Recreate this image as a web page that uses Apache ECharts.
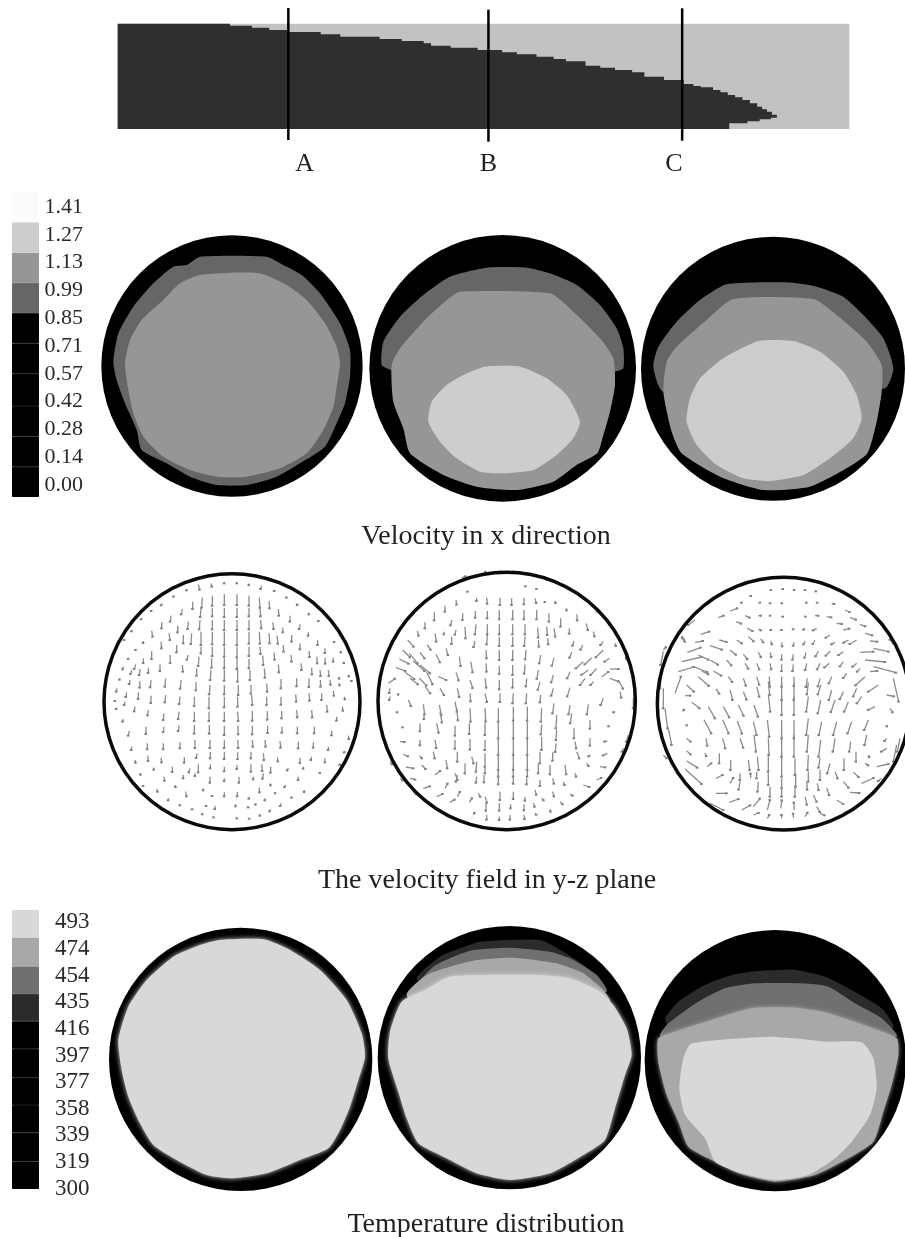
<!DOCTYPE html>
<html>
<head>
<meta charset="utf-8">
<style>
  html, body { margin: 0; background: #fff; }
  #chart { width: 905px; height: 1237px; }
</style>
<script src="https://cdn.jsdelivr.net/npm/echarts@6/dist/echarts.min.js"></script>
</head>
<body>
<div id="chart"></div>
<script>
// colour scale levels
const velocityLevels = [0, 0.14, 0.28, 0.42, 0.57, 0.71, 0.85, 0.99, 1.13, 1.27, 1.41];
const temperatureLevels = [300, 319, 339, 358, 377, 397, 416, 435, 454, 474, 493];

const sectionNames = ["A", "B", "C"];
const sectionX = [384, 792, 1187];
const sectionTop = [24, 29, 25];
const sectionBottom = [420, 425, 422];
const sectionLabelX = [417, 792, 1170];

// melt front, stair-stepped
const channel = [[36, 71], [1528, 71], [1528, 387], [36, 387]];
const front = [[36, 71], [265, 71], [265, 77], [310, 83], [345, 90], [385, 96], [450, 103], [490, 110], [570, 117], [615, 123], [660, 130], [675, 137], [715, 143], [770, 150], [820, 157], [850, 163], [890, 170], [925, 177], [950, 184], [990, 197], [1020, 203], [1050, 210], [1085, 217], [1110, 230], [1150, 240], [1190, 252], [1210, 258], [1225, 262], [1250, 270], [1265, 277], [1280, 285], [1295, 292], [1310, 300], [1325, 310], [1340, 320], [1350, 328], [1360, 335], [1370, 344], [1380, 353], [1368, 358], [1345, 364], [1320, 370], [1283, 380], [1283, 387], [36, 387]];

// velocity contours
const velDiskA = [696, 528, 392];
const velA1 = [[600, 200], [800, 200], [850, 225], [905, 255], [960, 310], [1020, 400], [1050, 480], [1050, 560], [1035, 640], [1010, 700], [975, 770], [900, 820], [830, 860], [740, 885], [650, 885], [570, 860], [500, 820], [425, 780], [410, 720], [375, 640], [350, 570], [340, 515], [355, 430], [400, 350], [460, 280], [520, 230], [560, 225]];
const velA2 = [[600, 255], [700, 248], [780, 250], [860, 285], [920, 330], [975, 400], [1010, 470], [1020, 520], [1010, 590], [1000, 650], [970, 720], [920, 790], [840, 835], [740, 860], [650, 860], [570, 840], [490, 800], [430, 740], [400, 670], [385, 600], [375, 520], [390, 450], [425, 390], [490, 330], [540, 280]];

const velDiskB = [428, 430, 400];
const velB1 = [[380, 128], [500, 128], [570, 145], [650, 180], [720, 240], [770, 310], [790, 370], [790, 430], [765, 440], [600, 500], [200, 500], [92, 435], [65, 420], [70, 350], [120, 275], [190, 210], [270, 155]];
const velB2 = [[300, 200], [570, 205], [640, 260], [720, 340], [760, 400], [765, 480], [750, 560], [730, 630], [712, 685], [650, 720], [580, 770], [470, 795], [350, 785], [250, 750], [150, 685], [130, 610], [100, 530], [95, 420], [120, 370], [190, 290], [260, 225]];
const velB3 = [[375, 425], [480, 425], [560, 460], [620, 510], [660, 590], [640, 640], [590, 690], [520, 735], [430, 745], [360, 740], [290, 700], [240, 650], [205, 590], [215, 530], [260, 480], [320, 445]];

const velDiskC = [429, 431, 396];
const velC1 = [[290, 178], [470, 172], [560, 185], [640, 215], [700, 270], [760, 340], [790, 430], [765, 490], [500, 500], [100, 500], [70, 425], [85, 365], [140, 290], [210, 225]];
const velC2 = [[310, 222], [550, 222], [620, 270], [710, 350], [755, 420], [755, 500], [740, 590], [712, 685], [650, 730], [540, 785], [400, 795], [270, 755], [155, 685], [125, 620], [100, 500], [110, 410], [140, 365], [230, 285]];
const velC3 = [[385, 348], [490, 348], [570, 380], [640, 440], [680, 510], [695, 580], [670, 640], [600, 700], [520, 750], [420, 768], [340, 760], [260, 720], [200, 660], [170, 590], [180, 520], [210, 460], [280, 400]];

// temperature contours
const tempDiskA = [722, 478, 395];
const tempA1 = [[660, 120], [790, 118], [870, 150], [960, 210], [1040, 300], [1085, 400], [1095, 470], [1075, 540], [1050, 620], [1020, 690], [985, 745], [900, 780], [800, 820], [700, 835], [620, 825], [530, 780], [460, 735], [420, 670], [385, 590], [365, 510], [355, 420], [385, 320], [440, 240], [520, 170], [600, 135]];

const tempDiskB = [418, 488, 395];
const tempB1 = [[330, 140], [510, 135], [580, 170], [640, 210], [700, 275], [500, 300], [200, 300], [140, 250], [210, 185], [270, 160]];
const tempB2 = [[310, 165], [420, 158], [540, 170], [600, 190], [680, 240], [710, 290], [500, 300], [200, 290], [130, 285], [190, 215], [250, 185]];
const tempB3 = [[320, 195], [430, 188], [560, 205], [640, 235], [700, 285], [720, 320], [600, 400], [200, 400], [110, 300], [170, 240], [240, 215]];
const tempB4 = [[240, 245], [500, 240], [600, 250], [690, 290], [730, 330], [770, 400], [785, 480], [765, 540], [735, 640], [705, 735], [640, 780], [540, 835], [420, 855], [320, 835], [230, 790], [145, 745], [110, 670], [85, 590], [55, 490], [60, 410], [95, 320], [165, 285]];

const tempDiskC = [421, 497, 392];
const tempC1 = [[370, 228], [480, 225], [570, 245], [650, 285], [740, 340], [775, 400], [500, 440], [100, 390], [90, 370], [130, 320], [210, 270], [290, 240]];
const tempC2 = [[360, 265], [500, 265], [580, 275], [660, 325], [740, 370], [785, 425], [500, 480], [100, 460], [75, 420], [100, 385], [190, 320], [270, 280]];
const tempC3 = [[350, 340], [480, 338], [570, 352], [700, 395], [785, 430], [790, 480], [770, 570], [745, 650], [715, 740], [640, 790], [540, 840], [420, 860], [310, 835], [220, 790], [160, 755], [130, 680], [95, 600], [70, 500], [70, 430], [120, 410], [230, 375]];
const tempC4 = [[170, 445], [400, 425], [480, 430], [570, 440], [680, 442], [715, 490], [725, 580], [705, 660], [650, 740], [600, 790], [520, 840], [420, 855], [320, 835], [240, 800], [210, 730], [150, 660], [133, 580], [145, 490]];

// y-z velocity field: x, y, dx, dy
const wallA = [411, 410, 384];
const fieldA = [
  [310,58,4,16],[348,55,3,10],[388,52,0,3],[426,52,0,3],[463,55,-1,5],[500,62,-3,10],[540,75,-2,3],[275,72,0,4],[238,92,-2,3],[573,95,2,3],[605,115,2,5],[202,115,-3,6],[170,135,-1,3],[640,143,2,5],[140,160,-1,3],[670,165,1,3],
  [293,110,0,22],[322,98,-2,30],[352,92,0,30],[388,88,0,32],[426,88,0,32],[462,92,0,30],[493,98,2,30],[522,108,2,22],
  [262,132,-3,16],[318,128,-2,28],[352,128,0,26],[388,128,0,28],[426,128,0,28],[462,128,0,26],[495,128,2,26],[550,132,2,20],[585,152,0,18],[228,152,-2,18],
  [200,172,0,18],[248,182,0,20],[280,170,-2,22],[315,165,-2,28],[352,165,0,28],[388,165,0,30],[426,165,0,30],[462,165,0,28],[497,165,2,25],[533,172,3,20],[563,188,1,14],[615,178,-2,14],
  [170,197,3,18],[222,205,3,20],[265,210,0,25],[290,205,-2,32],[318,200,0,40],[352,200,0,38],[388,200,0,40],[426,200,0,40],[462,200,0,36],[493,200,2,36],[522,205,2,30],[546,212,3,24],[590,210,0,20],[640,202,0,10],[145,228,0,6],[112,195,-2,4],[668,225,0,15],[690,250,0,14],[88,222,0,3],[718,228,0,3],
  [198,230,2,20],[245,240,0,22],[170,258,0,24],[280,270,-4,14],[318,245,0,20],[352,245,0,28],[388,245,0,30],[426,245,0,32],[462,245,0,28],[495,245,2,22],[537,262,2,22],[565,240,1,20],[615,235,0,18],[642,258,2,18],[665,275,2,20],[690,278,1,18],[122,252,0,3],[100,278,0,4],[738,258,0,4],
  [145,280,0,14],[225,270,1,24],[312,275,-2,28],[350,280,0,28],[388,280,0,30],[426,280,0,32],[462,282,0,28],[503,272,2,28],[588,270,2,20],[715,278,0,12],[745,290,2,4],
  [85,305,-2,8],[122,298,-4,14],[110,315,-3,12],[135,312,-2,18],[160,308,0,16],[195,298,0,20],[262,300,2,20],[305,310,0,22],[348,315,-2,30],[388,315,0,32],[428,315,0,35],[465,315,0,30],[508,310,2,28],[550,298,2,24],[618,295,2,20],[650,308,1,20],[675,315,2,18],[700,315,2,18],[730,335,3,6],[760,330,2,4],
  [75,340,-1,4],[105,345,-2,12],[135,348,-1,20],[168,345,-2,22],[212,340,-2,25],[258,345,-2,26],[303,350,0,26],[345,360,-2,28],[388,360,0,28],[430,360,0,30],[468,360,0,26],[515,355,2,25],[558,342,0,28],[605,340,0,24],[642,340,0,26],[676,345,1,20],[705,345,2,14],[732,355,2,6],[768,345,2,3],
  [66,370,-2,10],[95,382,-2,14],[130,382,0,20],[168,392,0,22],[212,390,-2,22],[255,395,-2,22],[298,395,0,28],[342,395,0,35],[388,395,0,32],[428,395,0,30],[470,390,2,30],[515,395,0,25],[558,395,0,24],[602,388,2,22],[642,385,2,22],[680,385,0,20],[715,378,2,14],[748,395,2,8],
  [60,405,0,3],[90,410,-2,10],[65,428,-1,4],[120,425,-2,14],[160,435,-2,16],[207,445,-2,20],[252,440,-2,22],[298,440,0,28],[342,440,0,28],[388,440,0,28],[428,440,2,28],[472,437,0,30],[517,438,0,26],[560,438,0,22],[605,435,2,22],[650,435,2,22],[695,420,2,20],[742,425,2,12],
  [85,462,-2,8],[103,498,-3,14],[153,485,0,22],[207,485,-2,16],[252,482,-2,16],[298,480,0,26],[343,480,0,26],[388,482,0,28],[428,482,2,26],[472,482,0,26],[518,482,0,22],[561,485,0,18],[607,485,0,20],[658,485,0,20],[710,497,0,14],[725,455,0,12],[760,512,2,10],
  [110,545,-1,10],[157,535,0,18],[205,535,0,18],[255,532,0,18],[300,525,0,24],[345,525,0,24],[388,525,0,24],[428,525,2,24],[472,525,2,20],[510,525,2,20],[555,528,2,20],[610,530,0,20],[655,532,0,16],[700,545,0,10],[750,558,-2,4],[775,530,1,6],
  [120,585,2,8],[158,572,2,16],[198,578,2,14],[268,577,0,16],[306,565,-2,14],[346,560,0,20],[388,560,0,22],[428,562,0,20],[468,560,0,20],[505,565,2,20],[547,577,2,12],[615,578,0,16],[650,575,-2,10],[690,580,0,12],[735,595,0,5],
  [137,625,0,4],[175,608,2,6],[232,605,0,16],[285,610,-3,12],[310,598,0,24],[346,598,0,12],[388,605,0,14],[426,600,0,12],[468,598,0,22],[500,598,2,20],[527,605,0,18],[580,608,-3,8],[625,605,0,6],[675,620,0,4],
  [145,660,0,3],[207,635,2,12],[265,630,0,10],[300,625,0,8],[345,635,0,18],[388,640,0,8],[432,635,0,18],[475,635,0,8],[505,625,-2,16],[525,655,2,6],[572,660,-3,6],[610,635,0,10],
  [185,672,3,8],[240,660,2,6],[272,680,3,14],[325,670,0,6],[352,690,0,3],[388,682,0,12],[427,680,0,14],[462,695,0,6],[492,668,2,14],[510,700,0,6],[541,682,0,3],[592,695,-2,3],[628,675,0,6],
  [220,700,0,6],[255,718,0,3],[330,720,4,3],[360,722,0,10],[422,718,0,6],[458,725,2,2],[482,715,0,4],[527,733,-3,6],[558,715,-2,8],
  [290,732,2,1],[322,745,0,3],[356,755,0,2],[423,760,3,0],[462,760,1,1],[495,748,0,4]
];

const wallB = [410, 408, 386];
const fieldB = [
  [292,78,1,2],[467,62,0,2],[500,70,0,2],[258,105,2,14],[320,98,0,10],[350,98,2,18],[390,98,0,22],[425,100,0,20],[462,98,0,20],[495,100,4,14],[525,108,0,3],[555,108,2,6],[590,130,0,6],[225,122,0,18],
  [193,142,0,24],[278,145,0,20],[316,138,0,20],[352,138,0,22],[388,135,0,28],[428,135,0,28],[462,135,0,28],[500,135,0,28],[537,145,0,25],[572,160,0,25],[620,148,2,18],[680,135,2,5],
  [165,172,0,18],[245,165,-3,16],[142,198,4,14],[195,205,4,25],[222,200,0,8],[258,195,-3,14],[285,185,2,35],[318,178,-3,30],[352,178,0,30],[388,178,0,30],[428,178,0,30],[465,178,0,30],[503,188,2,30],[530,185,2,25],[552,190,4,25],[598,190,0,16],[648,175,6,20],[670,200,4,14],
  [113,225,18,20],[172,240,10,14],[245,215,0,22],[315,228,-4,18],[352,210,-2,28],[388,215,0,28],[428,215,0,28],[465,215,-2,28],[505,225,2,20],[533,220,2,18],[612,228,-4,14],[638,240,-6,14],[700,230,-8,10],[735,235,3,8],
  [98,255,22,22],[88,282,28,14],[118,265,25,30],[150,262,14,18],[198,268,12,24],[228,250,6,20],[268,275,4,28],[348,255,2,25],[388,255,0,30],[428,255,0,30],[468,255,-2,28],[512,270,-4,25],[552,278,-6,24],[605,262,-6,16],[665,278,-20,20],[700,255,-22,22],[718,280,-14,10],[770,268,0,15],
  [78,308,28,10],[105,322,28,20],[130,288,34,30],[150,300,30,25],[170,322,18,36],[205,335,24,10],[258,322,8,24],[302,290,6,32],[348,295,2,25],[388,302,0,25],[428,300,0,30],[465,298,-2,28],[505,315,-4,26],[550,330,-6,22],[600,320,-8,20],[640,290,-22,20],[655,315,-20,14],[680,310,-18,20],[720,312,26,0],[695,335,20,-14],
  [55,355,20,-14],[60,370,-2,14],[85,385,0,4],[120,340,24,18],[148,340,22,22],[165,365,16,20],[210,370,12,20],[262,370,6,26],[300,345,8,24],[345,340,4,28],[388,345,0,28],[428,340,0,28],[470,340,-2,24],[510,350,-6,24],[550,370,-6,22],[600,368,-8,26],[645,340,-14,20],[670,350,-8,10],[720,340,26,10],[745,345,14,26],
  [60,395,-2,10],[115,405,8,18],[160,418,4,30],[208,420,6,30],[255,410,6,30],[300,385,2,24],[345,385,6,26],[390,385,0,26],[430,385,-2,30],[470,385,-2,30],[512,390,-2,22],[552,415,-4,30],[600,420,-4,28],[655,418,-4,30],[700,400,-8,20],[750,380,4,18],
  [80,440,2,2],[162,450,0,12],[210,440,6,32],[260,430,4,36],[300,430,2,40],[345,428,2,42],[385,430,0,40],[430,425,0,42],[472,425,0,42],[515,430,-2,40],[560,450,-2,40],[605,445,-4,30],[735,440,-4,2],
  [98,486,0,1],[150,475,0,24],[200,475,6,28],[255,482,0,30],[298,475,0,32],[345,475,0,35],[385,470,0,50],[430,470,0,50],[472,470,0,50],[515,478,-2,30],[560,495,-2,30],[612,490,0,30],[660,465,0,26],[718,482,-2,2],
  [90,530,14,1],[150,525,0,16],[195,525,4,24],[255,525,0,26],[300,522,0,32],[345,525,0,30],[385,520,0,50],[430,520,0,50],[472,520,0,50],[515,515,0,40],[558,535,-2,26],[615,530,4,20],[660,520,0,22],[712,528,-8,2],
  [100,568,14,6],[148,572,8,8],[190,560,4,20],[228,585,4,25],[262,560,0,30],[305,575,6,20],[345,565,0,40],[385,565,0,50],[430,565,0,50],[472,565,0,50],[510,560,0,35],[548,562,0,25],[620,560,8,20],[662,570,-6,4],[712,565,-12,6],
  [108,606,22,4],[155,600,12,12],[195,630,16,-12],[255,625,8,20],[285,595,0,30],[320,590,-2,30],[345,605,0,20],[385,605,0,30],[430,605,0,30],[472,605,0,30],[505,595,0,30],[540,600,0,28],[585,600,4,28],[615,625,4,10],[650,595,6,8],[690,605,16,2],
  [120,640,16,4],[160,670,20,-6],[225,670,8,-14],[262,630,-4,20],[320,635,-2,18],[342,630,0,22],[385,630,0,28],[430,632,0,24],[470,640,0,18],[510,645,0,18],[548,640,4,16],[580,650,4,10],[640,660,18,6],[680,645,14,-6],
  [200,695,18,-8],[240,712,14,-8],[262,695,8,-14],[298,712,8,-12],[325,685,6,10],[345,695,6,18],[390,680,0,25],[430,680,0,22],[465,695,0,12],[495,675,4,14],[515,700,6,6],[548,680,4,14],[570,710,8,8],[600,688,8,4],
  [310,750,4,-6],[348,715,0,22],[350,750,0,14],[388,715,0,22],[422,718,0,12],[420,750,0,14],[462,718,0,18],[462,750,2,12],[490,715,4,10],[495,745,4,4],[540,732,2,8],[388,755,0,10],
  [275,38,12,-4],[345,16,2,6],[390,16,0,5],[430,16,0,5],[765,265,4,14],[790,400,0,30],[775,510,-6,20],[760,550,-4,10],[60,590,6,8],[90,640,8,6],[130,680,10,8]
];

const wallC = [461, 416, 379];
const fieldC = [
  [365,92,-2,1],[422,75,1,0],[458,72,1,0],[492,75,1,0],[525,75,1,0],[557,78,1,1],
  [300,138,22,-8],[333,115,2,-2],[392,113,-2,0],[420,115,1,0],[455,115,1,0],[528,113,2,0],[560,113,2,0],[605,115,8,2],[645,135,14,6],
  [265,158,16,-6],[345,152,14,6],[385,152,8,0],[420,152,1,0],[455,155,4,0],[525,155,2,0],[555,152,10,0],[590,155,14,2],[620,175,16,2],[660,158,18,6],[690,178,16,6],
  [212,208,26,-8],[318,170,16,6],[352,190,16,8],[385,192,8,4],[420,192,3,3],[455,192,0,3],[490,190,0,3],[525,190,-4,4],[560,190,-10,6],[600,210,-12,8],[640,195,18,-4],[705,205,22,6],
  [195,232,24,-4],[268,225,22,6],[320,225,16,10],[355,215,16,14],[392,222,8,10],[422,228,4,10],[455,232,2,12],[492,232,-2,10],[525,228,-4,10],[555,225,-6,12],[615,232,-10,6],[655,225,-14,8],[680,225,-20,12],[720,228,22,2],
  [172,262,40,-14],[240,242,36,12],[300,255,18,14],[340,268,12,14],[385,262,8,14],[420,262,4,14],[455,268,0,16],[490,268,-2,16],[528,262,-4,16],[565,258,-8,16],[600,258,-12,14],[640,260,-14,10],[690,262,40,-2],[730,250,46,10],
  [155,290,60,-14],[205,270,30,14],[240,285,24,14],[290,285,14,16],[345,295,10,16],[380,295,8,18],[420,295,4,18],[455,298,0,20],[490,298,-2,20],[530,295,-4,20],[570,295,-8,18],[598,295,-14,12],[640,290,-10,14],[680,295,-12,10],[705,285,60,6],
  [145,320,46,-14],[190,305,42,16],[215,318,20,10],[250,318,24,14],[295,335,12,16],[340,340,8,22],[380,335,8,24],[418,335,2,30],[455,335,0,30],[492,335,0,28],[532,340,-4,26],[570,340,-6,24],[605,335,-8,20],[650,325,-10,14],[690,310,-8,10],[720,320,22,-2],[730,305,68,18],
  [135,385,18,-50],[170,360,22,20],[205,335,32,28],[258,372,10,14],[300,375,8,30],[340,380,10,24],[380,365,8,30],[415,350,4,40],[455,355,0,50],[492,355,0,50],[535,352,-4,36],[572,360,-8,28],[605,375,-8,30],[640,380,-10,22],[680,370,-10,24],[705,335,-28,26],[745,360,-30,20],[790,340,16,70],
  [165,392,16,0],[185,412,24,18],[235,425,20,35],[280,425,18,32],[325,420,16,32],[372,420,12,35],[415,390,6,50],[455,395,0,55],[492,395,0,55],[535,395,-6,45],[572,405,-8,40],[615,405,-12,36],[655,410,-12,30],[695,395,-14,20],[735,425,-20,10],[770,390,22,4],[780,430,8,12],
  [158,440,4,-6],[222,465,22,40],[278,465,18,40],[322,468,14,38],[370,470,10,40],[412,465,6,50],[455,465,0,55],[492,465,0,55],[535,460,-6,50],[575,470,-8,40],[620,470,-10,40],[665,470,-12,35],[715,465,-12,30],[770,480,1,4],
  [170,480,1,1],[170,520,12,10],[228,520,4,22],[278,520,8,30],[330,520,10,28],[372,510,6,50],[415,520,2,50],[455,510,0,65],[492,510,0,65],[535,510,-4,50],[572,525,-6,50],[615,520,-6,40],[662,530,-4,30],[710,510,-6,30],[770,520,-6,8],
  [170,558,12,10],[225,565,4,8],[268,565,0,30],[302,585,0,30],[355,585,4,30],[382,575,4,40],[415,570,0,50],[455,575,0,60],[495,580,0,50],[535,570,-2,45],[570,578,-4,30],[600,595,-8,30],[642,580,0,35],[678,560,0,30],[716,570,2,6],[770,550,-16,10],
  [170,588,32,20],[232,605,12,-10],[165,612,50,45],[258,640,20,-10],[300,655,10,-16],[330,625,0,20],[362,640,0,-14],[380,620,0,20],[415,625,0,35],[455,640,0,30],[497,625,0,40],[535,620,0,30],[570,615,0,30],[615,620,8,20],[670,622,16,14],[705,595,10,6],[740,605,36,-8],
  [258,685,32,0],[298,712,28,-10],[335,735,26,-14],[330,650,-4,24],[385,650,-2,30],[420,665,0,30],[455,670,0,25],[495,665,0,30],[530,650,2,24],[562,655,4,20],[590,670,8,20],[640,650,16,18],[660,682,28,2],[695,655,36,-16],[755,640,-10,8],
  [370,725,20,-24],[412,735,8,-30],[452,730,4,-24],[492,735,0,-22],[525,695,6,24],[550,690,10,20],[560,725,10,16],[620,705,20,12],[370,750,16,-6],[412,760,6,-10],[455,760,0,-10],[490,758,0,-12],[525,755,8,-12],[570,745,14,6],[585,775,12,-4],
  [100,260,-8,40],[95,310,-4,60],[100,370,0,60],[105,430,8,60],[115,490,10,50],[155,220,10,10],[165,225,-8,-8],[780,225,10,10],[788,232,-8,-8],[800,540,-10,50],[810,520,-8,40],[240,715,40,20],[640,745,30,-15],[100,570,10,10],[195,165,-20,15],[100,255,8,-8]
];

const SERIF = '"Liberation Serif", serif';
const BLACK = "#000", DARK = "#666666", MID = "#969696", LIGHT = "#cdcdcd";
const T1 = "#2b2b2b", T2 = "#707070", T3 = "#a8a8a8", T4 = "#d8d8d8";

const grids = [], xAxes = [], yAxes = [], series = [];

// each panel is its own hidden pair of axes, in the units the contours were read in
function addPanel(left, top, width, height, xMax, yMax) {
  grids.push({ left, top, width, height });
  xAxes.push({ type: "value", gridIndex: grids.length - 1, min: 0, max: xMax, show: false });
  yAxes.push({ type: "value", gridIndex: grids.length - 1, min: 0, max: yMax, inverse: true, show: false });
  return grids.length - 1;
}

function addPolygon(panel, points, fill, opts) {
  opts = opts || {};
  series.push({
    type: "custom", xAxisIndex: panel, yAxisIndex: panel, silent: true, clip: false,
    data: [[points[0][0], points[0][1]]],
    renderItem: (params, api) => {
      let pts = points;
      if (opts.step) {
        pts = [];
        points.forEach((p, i) => {
          if (i > 0) pts.push([p[0], points[i - 1][1]]);
          pts.push(p);
        });
      }
      return {
        type: "polygon",
        shape: { points: pts.map((p) => api.coord(p)), smooth: opts.smooth || 0 },
        style: { fill, shadowBlur: opts.blur || 0, shadowColor: opts.blur ? fill : "transparent" },
      };
    },
  });
}

function addContour(panel, points, fill, blur) {
  addPolygon(panel, points, fill, { smooth: 0.2, blur: blur });
}

function addDisk(panel, disk, style) {
  series.push({
    type: "custom", xAxisIndex: panel, yAxisIndex: panel, silent: true, clip: false,
    data: [disk],
    renderItem: (params, api) => {
      const c = api.coord([api.value(0), api.value(1)]);
      const r = api.size([api.value(2), 0])[0];
      return { type: "circle", shape: { cx: c[0], cy: c[1], r }, style };
    },
  });
}

function addField(panel, field, wall) {
  series.push({
    type: "custom", xAxisIndex: panel, yAxisIndex: panel, silent: true, clip: false,
    data: field,
    renderItem: (params, api) => {
      const x = api.value(0), y = api.value(1), dx = api.value(2), dy = api.value(3);
      const a = api.coord([x, y]);
      const b = api.coord([x + dx, y + dy]);
      return {
        type: "group",
        children: [
          { type: "line", shape: { x1: a[0], y1: a[1], x2: b[0], y2: b[1] }, style: { stroke: "#8c8c8c", lineWidth: 1.3 } },
          { type: "rect", shape: { x: b[0] - 1.5, y: b[1] - 1, width: 2.5, height: 2 }, style: { fill: "#808080" } },
        ],
      };
    },
  });
  addDisk(panel, wall, { fill: "none", stroke: "#0a0a0a", lineWidth: 3.5 });
}

function addLegend(barTop, barHeight, labelLeft, labelTop, labelHeight, levels, colors, digits, fontSize) {
  const barGrid = grids.length;
  grids.push({ left: 12, top: barTop, width: 27, height: barHeight });
  xAxes.push({ type: "category", gridIndex: barGrid, data: [""], show: false });
  yAxes.push({ type: "value", gridIndex: barGrid, min: levels[0], max: levels[levels.length - 1], show: false });
  // stack starts at zero, so lift it to the first level with an unfilled bar
  series.push({
    type: "bar", xAxisIndex: barGrid, yAxisIndex: barGrid, stack: "band" + barGrid, barWidth: "100%", silent: true,
    data: [levels[0]], itemStyle: { color: "transparent" },
  });
  levels.slice(1).forEach((lv, i) => {
    series.push({
      type: "bar", xAxisIndex: barGrid, yAxisIndex: barGrid, stack: "band" + barGrid, barWidth: "100%", silent: true,
      data: [lv - levels[i]], itemStyle: { color: colors[i], borderColor: colors[i], borderWidth: 1 },
    });
  });
  const labelGrid = grids.length;
  grids.push({ left: labelLeft, top: labelTop, width: 50, height: labelHeight });
  xAxes.push({ type: "value", gridIndex: labelGrid, show: false });
  yAxes.push({
    type: "category", gridIndex: labelGrid, data: levels.map((v) => v.toFixed(digits)),
    axisLine: { show: false }, axisTick: { show: false },
    axisLabel: { inside: true, margin: 0, fontFamily: SERIF, fontSize, color: "#2a2a2a", interval: 0 },
  });
}

// melt front panel
const frontPanel = addPanel(100, 0, 770, 185, 1570, 555);
addPolygon(frontPanel, channel, "#c2c2c2");
addPolygon(frontPanel, front, "#2f2f2f", { step: true });
series.push({
  type: "custom", xAxisIndex: frontPanel, yAxisIndex: frontPanel, silent: true, clip: false,
  data: sectionX.map((x, i) => [x, sectionTop[i], sectionBottom[i], sectionLabelX[i]]),
  renderItem: (params, api) => {
    const a = api.coord([api.value(0), api.value(1)]);
    const b = api.coord([api.value(0), api.value(2)]);
    const t = api.coord([api.value(3), 493]);
    return {
      type: "group",
      children: [
        { type: "line", shape: { x1: a[0], y1: a[1], x2: b[0], y2: b[1] }, style: { stroke: "#000", lineWidth: 2.5 } },
        { type: "text", style: { x: t[0], y: t[1], text: sectionNames[params.dataIndex], align: "center", verticalAlign: "middle", fontFamily: SERIF, fontSize: 26, fill: "#222" } },
      ],
    };
  },
});

// velocity in x direction
const v1 = addPanel(0, 190, 370, 320, 1110, 960);
addDisk(v1, velDiskA, { fill: BLACK });
addContour(v1, velA1, DARK);
addContour(v1, velA2, MID);
const v2 = addPanel(360, 225, 280, 280, 840, 840);
addDisk(v2, velDiskB, { fill: BLACK });
addContour(v2, velB1, DARK);
addContour(v2, velB2, MID);
addContour(v2, velB3, LIGHT);
const v3 = addPanel(630, 225, 275, 280, 825, 840);
addDisk(v3, velDiskC, { fill: BLACK });
addContour(v3, velC1, DARK);
addContour(v3, velC2, MID);
addContour(v3, velC3, LIGHT);

// velocity field
addField(addPanel(95, 565, 280, 280, 840, 840), fieldA, wallA);
addField(addPanel(370, 565, 275, 280, 825, 840), fieldB, wallB);
addField(addPanel(630, 565, 275, 280, 825, 840), fieldC, wallC);

// temperature
const t1 = addPanel(0, 900, 375, 300, 1125, 900);
addDisk(t1, tempDiskA, { fill: BLACK });
addContour(t1, tempA1, T4, 5);
const t2 = addPanel(370, 895, 280, 305, 840, 915);
addDisk(t2, tempDiskB, { fill: BLACK });
addContour(t2, tempB1, T1);
addContour(t2, tempB2, T2);
addContour(t2, tempB3, T3);
addContour(t2, tempB4, T4, 5);
const t3 = addPanel(635, 895, 270, 305, 810, 915);
addDisk(t3, tempDiskC, { fill: BLACK });
addContour(t3, tempC1, T1);
addContour(t3, tempC2, T2);
addContour(t3, tempC3, T3, 4);
addContour(t3, tempC4, T4);

addLegend(192, 305, 44.5, 193, 306, velocityLevels,
  [BLACK, BLACK, BLACK, BLACK, BLACK, BLACK, DARK, MID, LIGHT, "#fbfbfb"], 2, 22);
addLegend(910, 279, 55, 909, 293, temperatureLevels,
  [BLACK, BLACK, BLACK, BLACK, BLACK, BLACK, T1, T2, T3, T4], 0, 23);

const captionStyle = { fontFamily: SERIF, fontSize: 28, fontWeight: "normal", color: "#222" };

const chart = echarts.init(document.getElementById("chart"));
chart.setOption({
  animation: false,
  backgroundColor: "#fff",
  title: [
    { text: "Velocity in x direction", left: 486, top: 523, textAlign: "center", padding: 0, textStyle: captionStyle },
    { text: "The velocity field in y-z plane", left: 487, top: 867, textAlign: "center", padding: 0, textStyle: captionStyle },
    { text: "Temperature distribution", left: 486, top: 1211, textAlign: "center", padding: 0, textStyle: captionStyle },
  ],
  grid: grids,
  xAxis: xAxes,
  yAxis: yAxes,
  series,
});
</script>
</body>
</html>
